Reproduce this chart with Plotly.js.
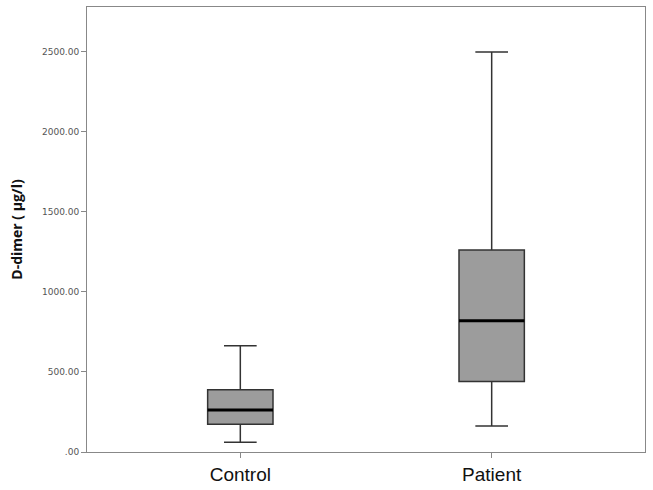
<!DOCTYPE html>
<html>
<head>
<meta charset="utf-8">
<script src="https://cdn.plot.ly/plotly-3.0.1.min.js"></script>
<style>
  body { margin: 0; background: #fff; }
  #chart { width: 653px; height: 490px; }
</style>
</head>
<body>
<div id="chart"></div>
<script>
const groups = ["Control", "Patient"];
const lowerWhisker = [61, 162];
const q1 = [173, 440];
const median = [262, 821];
const q3 = [389, 1262];
const upperWhisker = [664, 2500];

const yTicks = [0, 500, 1000, 1500, 2000, 2500];
const yTickText = [".00", "500.00", "1000.00", "1500.00", "2000.00", "2500.00"];

const boxWidth = 0.26;

const data = [
    {
        type: "box",
        x: groups,
        q1: q1,
        median: median,
        q3: q3,
        lowerfence: lowerWhisker,
        upperfence: upperWhisker,
        width: boxWidth,
        whiskerwidth: 0.5,
        fillcolor: "#9c9c9c",
        line: {color: "#333333", width: 1.5},
        hoverinfo: "skip",
        showlegend: false
    }
];

// thicker black median line, as in the original
const medianShapes = median.map((m, i) => ({
    type: "line",
    xref: "x", yref: "y",
    x0: i - boxWidth / 2, x1: i + boxWidth / 2,
    y0: m, y1: m,
    line: {color: "#000000", width: 3}
}));

const layout = {
    width: 653,
    height: 490,
    margin: {l: 87, r: 8, t: 7, b: 38},
    paper_bgcolor: "#ffffff",
    plot_bgcolor: "#ffffff",
    showlegend: false,
    shapes: medianShapes,
    xaxis: {
        type: "category",
        range: [-0.61, 1.61],
        showline: true,
        mirror: true,
        linecolor: "#888888",
        linewidth: 1,
        ticks: "outside",
        ticklen: 5,
        tickcolor: "#888888",
        showgrid: false,
        zeroline: false,
        tickfont: {family: "Liberation Sans, Arial, sans-serif", size: 19, color: "#111111"}
    },
    yaxis: {
        range: [0, 2781],
        tickvals: yTicks,
        ticktext: yTickText,
        showline: true,
        mirror: true,
        linecolor: "#888888",
        linewidth: 1,
        ticks: "outside",
        ticklen: 5,
        tickcolor: "#888888",
        showgrid: false,
        zeroline: false,
        tickfont: {family: "DejaVu Sans, sans-serif", size: 9, color: "#555555"},
        title: {
            text: "D-dimer ( \u00b5g/l)",
            font: {family: "Open Sans, DejaVu Sans, sans-serif", size: 14, color: "#111111", weight: "bold"},
            standoff: 16
        }
    }
};

Plotly.newPlot("chart", data, layout, {displayModeBar: false, staticPlot: true});
</script>
</body>
</html>
